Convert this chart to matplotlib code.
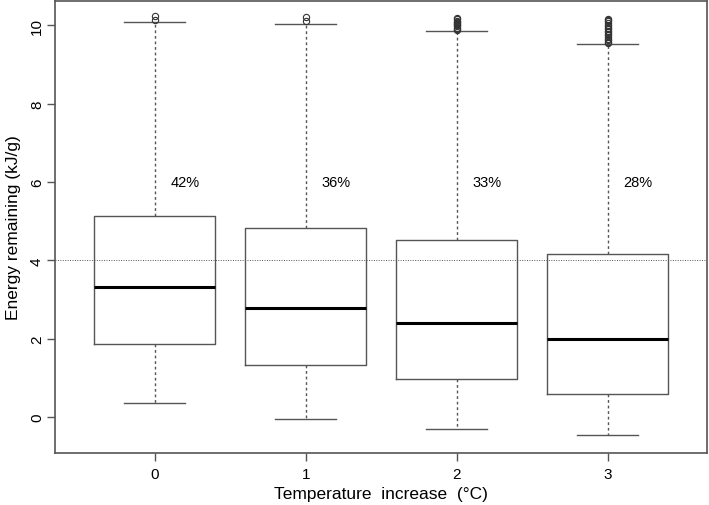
import matplotlib.pyplot as plt
import numpy as np

plt.rcParams['font.family'] = ['Liberation Sans', 'DejaVu Sans']

# temperature increase groups and summary stats
groups = ['0', '1', '2', '3']
whisker_low = [0.35, -0.05, -0.32, -0.47]
q1 = [1.86, 1.33, 0.96, 0.58]
median = [3.33, 2.79, 2.40, 2.00]
q3 = [5.14, 4.83, 4.52, 4.15]
whisker_high = [10.08, 10.03, 9.85, 9.51]
outliers = [
    [10.14, 10.24],
    [10.10, 10.21],
    [9.88, 9.91, 9.94, 9.97, 10.00, 10.03, 10.06, 10.09, 10.12, 10.15, 10.18],
    [9.54, 9.58, 9.62, 9.66, 9.70, 9.74, 9.78, 9.82, 9.86, 9.90, 9.94,
     9.98, 10.02, 10.06, 10.10, 10.14, 10.17],
]
pct_labels = ['42%', '36%', '33%', '28%']
threshold = 4

stats = []
for i in range(len(groups)):
    stats.append(dict(whislo=whisker_low[i], q1=q1[i], med=median[i], q3=q3[i],
                      whishi=whisker_high[i], fliers=outliers[i], label=groups[i]))

fig = plt.figure(figsize=(7.09, 5.06), dpi=100)
ax = fig.add_axes([0.0776, 0.1028, 0.9200, 0.8932])

grey = '#555555'
ax.axhline(threshold, color=grey, lw=0.7, ls=(0, (1, 1.5)), zorder=1)

pos = np.arange(1, len(groups) + 1)
ax.bxp(stats, positions=pos, widths=0.8,
       boxprops=dict(color=grey, lw=1.0),
       medianprops=dict(color='black', lw=2.2),
       whiskerprops=dict(color=grey, lw=1.0, ls=(0, (2, 2))),
       capprops=dict(color=grey, lw=1.0),
       capwidths=0.4,
       flierprops=dict(marker='o', markersize=4.5, markerfacecolor='none',
                       markeredgecolor='#333333', markeredgewidth=0.8))

for p, lab in zip(pos, pct_labels):
    ax.text(p + 0.2, 6, lab, ha='center', va='center', fontsize=10.5)

ax.set_xlim(0.34, 4.66)
ax.set_ylim(-0.92, 10.62)
ax.set_xticks(pos)
ax.set_xticklabels(groups)
ax.set_yticks([0, 2, 4, 6, 8, 10])
ax.set_yticklabels(['0', '2', '4', '6', '8', '10'], rotation=90, va='center')
ax.tick_params(direction='out', length=6, width=1, color=grey, labelsize=11)
ax.tick_params(axis='x', pad=4)
ax.tick_params(axis='y', pad=2)
for s in ax.spines.values():
    s.set_color(grey)
    s.set_linewidth(1.2)

ax.set_xlabel('Temperature  increase  (°C)', fontsize=12.5)
ax.set_ylabel('Energy remaining (kJ/g)', fontsize=12.5)
ax.xaxis.set_label_coords(0.5, -0.073)
ax.yaxis.set_label_coords(-0.052, 0.5)

fig.savefig('out.png', dpi=100)
